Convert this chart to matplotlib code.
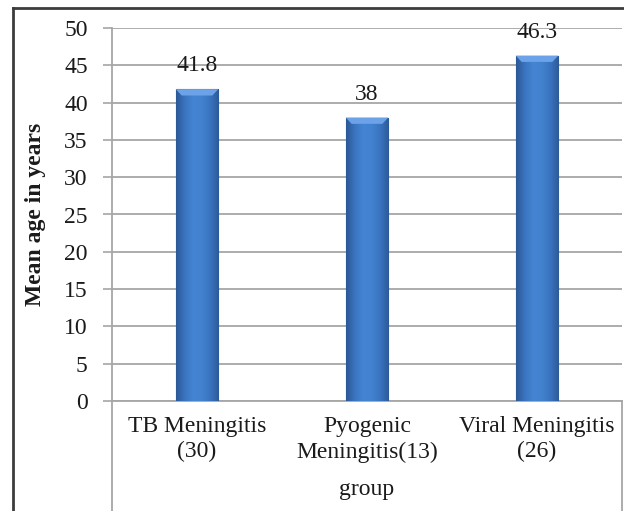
import matplotlib
matplotlib.use('Agg')
import matplotlib.pyplot as plt
import numpy as np
from matplotlib.colors import LinearSegmentedColormap
from matplotlib.patches import Polygon
from matplotlib.lines import Line2D

# Data
groups = ['TB Meningitis\n(30)', 'Pyogenic\nMeningitis(13)', 'Viral Meningitis\n(26)']
mean_age = [41.8, 38, 46.3]
value_labels = ['41.8', '38', '46.3']
y_ticks = [0, 5, 10, 15, 20, 25, 30, 35, 40, 45, 50]

plt.rcParams.update({
    'font.family': 'serif',
    'font.serif': ['Liberation Serif', 'DejaVu Serif'],
    'font.size': 17,
})

GRID = '#a6a6a6'
TEXT = '#1a1a1a'

fig = plt.figure(figsize=(6.24, 5.11), dpi=100)
ax = fig.add_axes([112 / 624, 1 - 401 / 511, 510 / 624, 373 / 511])

x = np.arange(len(groups))
bars = ax.bar(x, mean_age, width=0.25, color='#3d74bb', edgecolor='#2b5590',
              linewidth=0.8, zorder=3)

# bevel-like gradient inside each bar
bar_cmap = LinearSegmentedColormap.from_list(
    'bevel', ['#2b5896', '#3a74c0', '#4584d2', '#4282cf', '#3a74c0', '#2d5b99'])
grad = np.linspace(0, 1, 64).reshape(1, -1)
for rect in bars:
    x0, y0 = rect.get_x(), rect.get_y()
    w, h = rect.get_width(), rect.get_height()
    im = ax.imshow(grad, extent=[x0, x0 + w, y0, y0 + h], aspect='auto',
                   cmap=bar_cmap, zorder=3.5, interpolation='bicubic')
    im.set_clip_path(rect)
    dx, dy = w * 0.14, 0.85
    top = y0 + h
    ax.add_patch(Polygon([(x0, top), (x0 + w, top), (x0 + w - dx, top - dy),
                          (x0 + dx, top - dy)], closed=True,
                         facecolor='#6ba2e8', edgecolor='none', zorder=4))

for xi, v, lab in zip(x, mean_age, value_labels):
    ax.text(xi, v + 1.7, lab, ha='center', va='bottom', color=TEXT, fontsize=17)

ax.set_xlim(-0.5, 2.5)
ax.set_ylim(0, 50)
ax.set_yticks(y_ticks)
ax.set_xticks(x)
ax.set_xticklabels(groups, color=TEXT, linespacing=1.25)
ax.tick_params(axis='x', length=0, pad=11)
ax.tick_params(axis='y', length=6.5, width=1.2, color=GRID, pad=11, labelcolor=TEXT)
ax.yaxis.grid(True, color=GRID, linewidth=1.3, zorder=0)
ax.set_axisbelow(True)
for s in ['top', 'right']:
    ax.spines[s].set_visible(False)
for s in ['left', 'bottom']:
    ax.spines[s].set_color(GRID)
    ax.spines[s].set_linewidth(1.3)

ax.set_ylabel('Mean age in years', fontweight='bold', color=TEXT, fontsize=17, labelpad=13)
ax.set_xlabel('group', color=TEXT, fontsize=17, labelpad=12)

# category box under the axis
for px in [112, 622]:
    fig.add_artist(Line2D([px / 624, px / 624], [0, 1 - 401 / 511],
                          color=GRID, linewidth=1.3))

# outer chart border
fig.add_artist(Line2D([13 / 624, 13 / 624], [0, 1 - 8 / 511], color='#3c3c3c', linewidth=2))
fig.add_artist(Line2D([13 / 624, 1], [1 - 8 / 511, 1 - 8 / 511], color='#3c3c3c', linewidth=2))

fig.savefig('out.png', dpi=100, facecolor='white')
